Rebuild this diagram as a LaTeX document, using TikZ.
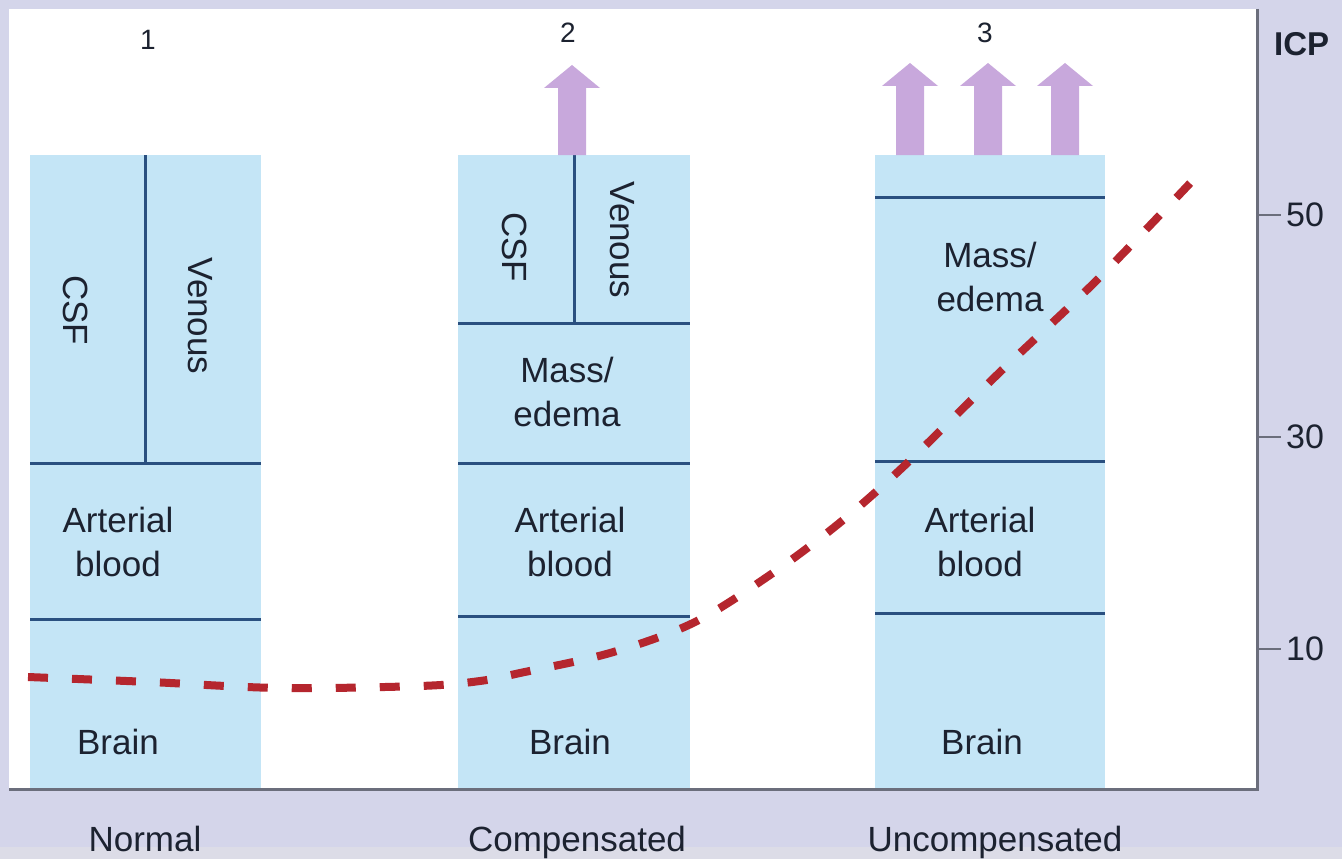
\documentclass[tikz,border=0pt]{standalone}
\usepackage{fontspec}
\setmainfont{Liberation Sans}
\definecolor{bg}{HTML}{D4D5EA}
\definecolor{bgband}{HTML}{DCDCE7}
\definecolor{boxblue}{HTML}{C4E5F6}
\definecolor{divline}{HTML}{2A5080}
\definecolor{axisgray}{HTML}{6B6E7C}
\definecolor{arrowlav}{HTML}{C8A8DC}
\definecolor{icpred}{HTML}{B5262E}
\definecolor{txt}{HTML}{1C2230}
\begin{document}
\begin{tikzpicture}[x=1pt,y=-1pt,
  lbl/.style={font=\fontsize{35}{44}\selectfont, text=txt, align=center, inner sep=0pt},
  numlbl/.style={font=\fontsize{28}{30}\selectfont, text=txt, inner sep=0pt},
  ticklbl/.style={font=\fontsize{34}{36}\selectfont, text=txt, anchor=west, inner sep=0pt},
  divider/.style={draw=divline, line width=3pt},
  colbox/.style={fill=boxblue},
  axisline/.style={draw=axisgray, line width=3pt},
  blockarrow/.style={fill=arrowlav},
  icpcurve/.style={draw=icpred, line width=8pt, dash pattern=on 20pt off 24pt}
]
% background and panel
\fill[bg] (0,0) rectangle (1342,859);
\fill[bgband] (0,847) rectangle (1342,859);
\useasboundingbox (0,0) rectangle (1342,859);
\fill[white] (9,9) rectangle (1257,789);

% columns
\fill[colbox] (30,155) rectangle (261,789);
\fill[colbox] (458,155) rectangle (690,789);
\fill[colbox] (875,155) rectangle (1105,789);

% column 1 dividers
\draw[divider] (145,155) -- (145,463);
\draw[divider] (30,463) -- (261,463);
\draw[divider] (30,619) -- (261,619);
% column 2 dividers
\draw[divider] (574,155) -- (574,323);
\draw[divider] (458,323) -- (690,323);
\draw[divider] (458,463) -- (690,463);
\draw[divider] (458,616) -- (690,616);
% column 3 dividers
\draw[divider] (875,197) -- (1105,197);
\draw[divider] (875,461) -- (1105,461);
\draw[divider] (875,613) -- (1105,613);

% block arrows
\foreach \cx/\ty in {572/65, 910/63, 988/63, 1065/63}{
  \fill[blockarrow] (\cx-14,155) -- (\cx-14,\ty+23) -- (\cx-28,\ty+23) -- (\cx,\ty)
    -- (\cx+28,\ty+23) -- (\cx+14,\ty+23) -- (\cx+14,155) -- cycle;
}

% axes
\draw[axisline] (1257,9) -- (1257,789) -- (9,789);
\draw[axisgray, line width=2pt] (1257,215) -- (1281,215);
\draw[axisgray, line width=2pt] (1257,437) -- (1281,437);
\draw[axisgray, line width=2pt] (1257,649) -- (1281,649);
\node[ticklbl] (t50) at (1286,215) {50};
\node[ticklbl] (t30) at (1286,437) {30};
\node[ticklbl] (t10) at (1286,649) {10};
\node[font=\bfseries\fontsize{33}{35}\selectfont, text=txt, anchor=west, inner sep=0pt] (icp) at (1274,44) {ICP};

% numbers
\node[numlbl] (n1) at (148,40) {1};
\node[numlbl] (n2) at (568,33) {2};
\node[numlbl] (n3) at (985,33) {3};

% column 1 labels
\node[lbl, rotate=-90] (csf1) at (76,310) {CSF};
\node[lbl, rotate=-90] (ven1) at (200,316) {Venous};
\node[lbl] (art1) at (118,542) {Arterial\\blood};
\node[lbl] (brain1) at (118,742) {Brain};
% column 2 labels
\node[lbl, rotate=-90] (csf2) at (515,247) {CSF};
\node[lbl, rotate=-90] (ven2) at (622,240) {Venous};
\node[lbl] (mass2) at (567,392) {Mass/\\edema};
\node[lbl] (art2) at (570,542) {Arterial\\blood};
\node[lbl] (brain2) at (570,742) {Brain};
% column 3 labels
\node[lbl] (mass3) at (990,277) {Mass/\\edema};
\node[lbl] (art3) at (980,542) {Arterial\\blood};
\node[lbl] (brain3) at (982,742) {Brain};

% bottom labels
\node[lbl, anchor=base] (normal) at (145,851) {Normal};
\node[lbl, anchor=base] (comp) at (577,851) {Compensated};
\node[lbl, anchor=base] (uncomp) at (995,851) {Uncompensated};

% ICP curve
\draw[icpcurve] plot[smooth, tension=0.55] coordinates {(28,677) (150,682) (280,688) (420,686) (480,681) (520,673) (610,653) (693,623) (767,577) (837,525) (903,467) (1000,372) (1097,280) (1195,178)};
\end{tikzpicture}
\end{document}
